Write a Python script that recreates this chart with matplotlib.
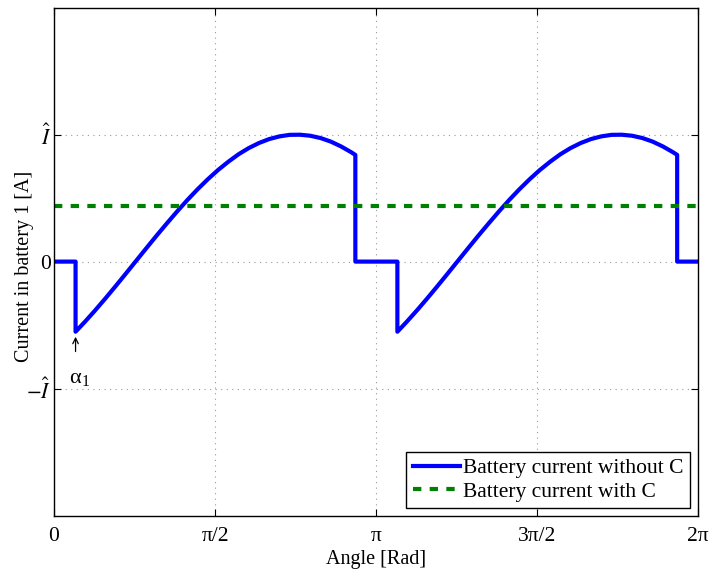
#!/usr/bin/env python3
"""battery_current.py"""

import matplotlib

matplotlib.use("Agg")
import matplotlib.pyplot as plt
import numpy as np

# Battery current without C (per unit of I-hat)
# first half cycle
theta_1 = [
    0.00, 0.21, 0.21, 0.30, 0.40, 0.50, 0.60, 0.70, 0.80, 0.90, 1.00,
    1.10, 1.20, 1.30, 1.40, 1.50, 1.60, 1.70, 1.80, 1.90, 2.00, 2.10,
    2.20, 2.30, 2.40, 2.50, 2.60, 2.70, 2.80, 2.90, 2.94, 2.94,
]
i_1 = [
    0.00, 0.00, -0.552, -0.475, -0.385, -0.291, -0.194, -0.095, 0.005,
    0.105, 0.204, 0.300, 0.394, 0.484, 0.569, 0.648, 0.721, 0.786, 0.845,
    0.894, 0.934, 0.965, 0.986, 0.998, 0.999, 0.991, 0.973, 0.945, 0.907,
    0.861, 0.840, 0.00,
]
# second half cycle
theta_2 = [
    3.35, 3.35, 3.44, 3.54, 3.64, 3.74, 3.84, 3.94, 4.04, 4.14, 4.24,
    4.34, 4.44, 4.54, 4.64, 4.74, 4.84, 4.94, 5.04, 5.14, 5.24, 5.34,
    5.44, 5.54, 5.64, 5.74, 5.84, 5.94, 6.04, 6.08, 6.08, 6.283,
]
i_2 = [
    0.00, -0.552, -0.475, -0.385, -0.291, -0.194, -0.095, 0.005,
    0.105, 0.204, 0.300, 0.394, 0.484, 0.569, 0.648, 0.721, 0.786, 0.845,
    0.894, 0.934, 0.965, 0.986, 0.998, 0.999, 0.991, 0.973, 0.945, 0.907,
    0.861, 0.840, 0.00, 0.00,
]

# Battery current with C (mean value)
theta_cap = [0.0, 6.283]
i_cap = [0.44, 0.44]

alpha_1 = 0.21
x_ticks = [0, np.pi / 2, np.pi, 3 * np.pi / 2, 2 * np.pi]
x_labels = ["0", "π/2", "π", "3π/2", "2π"]
y_ticks = [-1, 0, 1]
y_labels = [r"$-\hat{I}$", "0", r"$\hat{I}$"]


def main():
    plt.rcParams["font.family"] = ["Liberation Serif", "DejaVu Serif"]
    plt.rcParams["mathtext.fontset"] = "stix"

    fig = plt.figure(figsize=(7.11, 5.71), dpi=100)
    ax = fig.add_axes([0.076, 0.097, 0.9057, 0.8897])

    theta = theta_1 + theta_2
    i_no_cap = i_1 + i_2
    ax.plot(theta, i_no_cap, color="blue", lw=3, label="Battery current without C")
    ax.plot(theta_cap, i_cap, color="green", lw=3, dashes=(2, 2),
            label="Battery current with C")

    # mark the firing angle
    ax.annotate("", xy=(alpha_1, -0.57), xytext=(alpha_1, -0.73),
                arrowprops=dict(arrowstyle="->", lw=0.9, color="black"))
    ax.text(0.25, -0.92, r"α$_{\mathregular{1}}$", fontsize=16,
            ha="center", va="center")

    ax.set_xlim(0, 2 * np.pi)
    ax.set_ylim(-2, 2)
    ax.set_xticks(x_ticks)
    ax.set_xticklabels(x_labels)
    ax.set_yticks(y_ticks)
    ax.set_yticklabels(y_labels)
    ax.tick_params(direction="in", top=True, right=True, length=5,
                   labelsize=15.5, width=0.8)
    ax.tick_params(axis="x", pad=8)
    ax.tick_params(axis="y", pad=2)
    ax.grid(True, color="0.6", linestyle=(0, (1, 4)), lw=0.8)
    for s in ax.spines.values():
        s.set_linewidth(1.0)

    ax.set_xlabel("Angle [Rad]", fontsize=14.5, labelpad=3)
    ax.set_ylabel("Current in battery 1 [A]", fontsize=14.5)
    ax.yaxis.set_label_coords(-0.031, 0.49)

    leg = ax.legend(loc="lower right", fontsize=15.5, fancybox=False,
                    edgecolor="black", framealpha=1, handlelength=2.2,
                    handletextpad=0.15, borderaxespad=0.35, borderpad=0.3,
                    labelspacing=0.15)
    leg.get_frame().set_linewidth(1.0)

    fig.savefig("out.png", dpi=100)


if __name__ == "__main__":
    main()
